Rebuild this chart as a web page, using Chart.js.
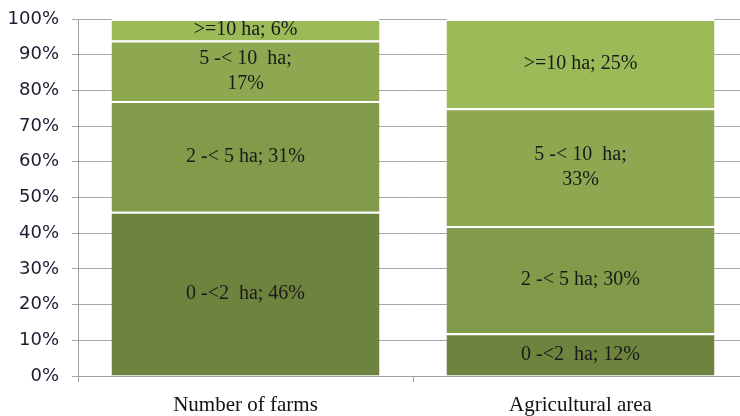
<!DOCTYPE html>
<html>
<head>
<meta charset="utf-8">
<script src="https://cdn.jsdelivr.net/npm/chart.js@4/dist/chart.umd.min.js"></script>
<style>
  html, body { margin: 0; padding: 0; background: #fff; overflow: hidden; }
  .wrap { width: 748px; height: 416px; }
</style>
</head>
<body>
<div class="wrap"><canvas id="myChart"></canvas></div>
<script>
const categories = ['Number of farms', 'Agricultural area'];
const sizeClasses = ['0 -<2  ha', '2 -< 5 ha', '5 -< 10  ha', '>=10 ha'];
const share0to2 = [46, 12];
const share2to5 = [31, 30];
const share5to10 = [17, 33];
const share10plus = [6, 25];
const yTicks = [0, 10, 20, 30, 40, 50, 60, 70, 80, 90, 100];

const colors = ['#6e843e', '#819b4a', '#8ea851', '#9bbb59'];
const series = [share0to2, share2to5, share5to10, share10plus];

// labels inside the segments, the 5-<10 class wraps onto two lines
const segLabels = {
  id: 'segLabels',
  afterDatasetsDraw(chart) {
    const ctx = chart.ctx;
    ctx.save();
    ctx.font = '20px "Liberation Serif"';
    ctx.fillStyle = '#1a1a1a';
    ctx.textAlign = 'center';
    ctx.textBaseline = 'middle';
    chart.data.datasets.forEach((ds, i) => {
      const meta = chart.getDatasetMeta(i);
      meta.data.forEach((bar, j) => {
        const v = ds.data[j];
        let lines = [sizeClasses[i] + '; ' + v + '%'];
        if (i === 2) lines = [sizeClasses[i] + ';', v + '%'];
        const cy = (bar.y + bar.base) / 2;
        const lh = 25;
        lines.forEach((t, k) => {
          ctx.fillText(t, bar.x, cy + (k - (lines.length - 1) / 2) * lh);
        });
      });
    });
    ctx.restore();
  }
};

const ctx = document.getElementById('myChart').getContext('2d');
const myChart = new Chart(ctx, {
  type: 'bar',
  data: {
    labels: categories,
    datasets: series.map((d, i) => ({
      label: sizeClasses[i],
      data: d,
      backgroundColor: colors[i],
      borderColor: '#ffffff',
      borderWidth: { top: 2, bottom: 0, left: 0, right: 0 },
      borderSkipped: false,
      barPercentage: 0.8,
      categoryPercentage: 1,
    }))
  },
  options: {
    responsive: true,
    maintainAspectRatio: false,
    animation: false,
    layout: { padding: { top: 19, left: 8, right: 0, bottom: 0 } },
    plugins: {
      legend: { display: false },
      tooltip: { enabled: false },
    },
    scales: {
      x: {
        stacked: true,
        afterFit: (scale) => { scale.height = 40; },
        grid: {
          offset: true,
          drawOnChartArea: false,
          drawTicks: true,
          tickLength: 6,
          color: '#a0a0a0',
        },
        border: { color: '#a0a0a0' },
        ticks: {
          padding: 11,
          color: '#111',
          font: { family: 'Liberation Serif', size: 21 },
        },
      },
      y: {
        stacked: true,
        min: 0,
        max: 100,
        afterFit: (scale) => {
          scale.width = 70;
          scale.paddingTop = 0;
          scale.paddingBottom = 0;
        },
        afterBuildTicks: (scale) => { scale.ticks = yTicks.map(v => ({ value: v })); },
        grid: {
          color: '#a6a6a6',
          tickLength: 6,
        },
        border: { color: '#a0a0a0' },
        ticks: {
          padding: 13,
          color: '#1c1c30',
          font: { family: 'DejaVu Sans', size: 18 },
          callback: v => v + '%',
        },
      },
    },
  },
  plugins: [segLabels],
});
</script>
</body>
</html>
